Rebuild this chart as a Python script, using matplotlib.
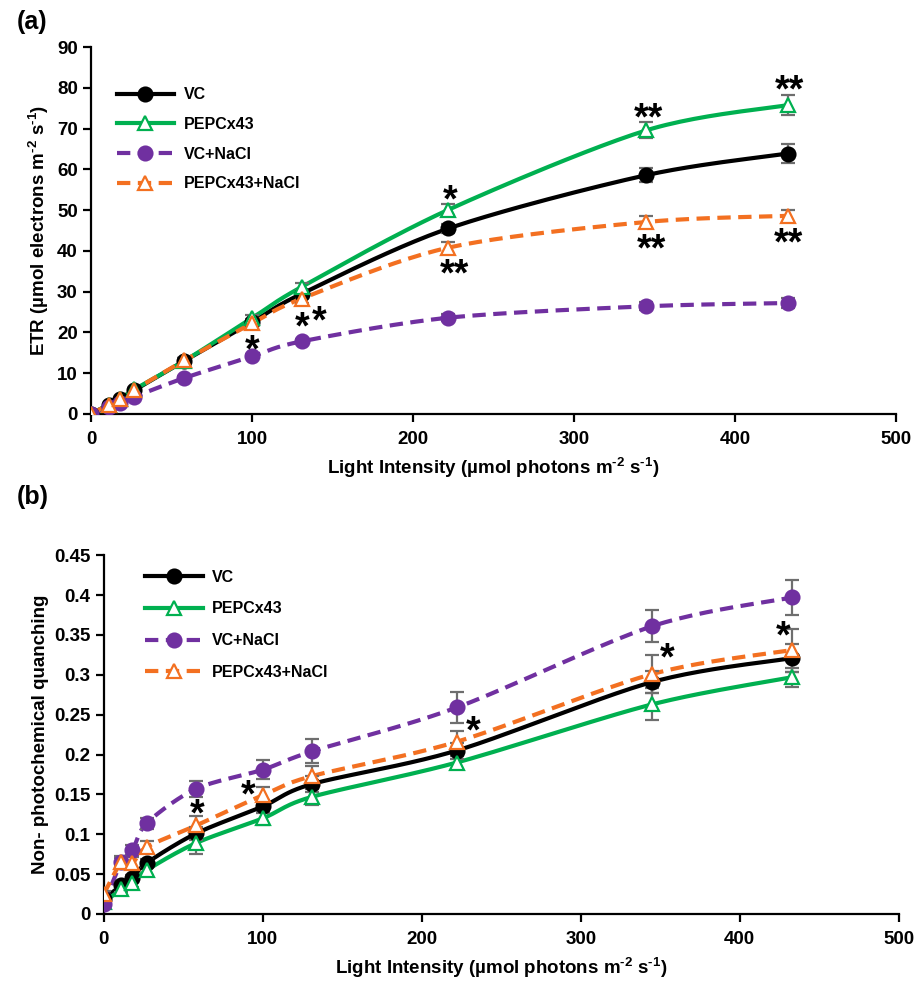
import numpy as np
import matplotlib
matplotlib.use("Agg")
import matplotlib.pyplot as plt

plt.rcParams['font.family'] = ['Liberation Sans', 'DejaVu Sans']
plt.rcParams['font.weight'] = 'bold'
plt.rcParams['mathtext.fontset'] = 'custom'
plt.rcParams['mathtext.rm'] = 'Liberation Sans:bold'
plt.rcParams['mathtext.default'] = 'rm'

# === Data ===
light = [0, 11, 18, 27, 58, 100, 131, 222, 345, 433]
series_names = ['VC', 'PEPCx43', 'VC+NaCl', 'PEPCx43+NaCl']

etr_vc = [0, 2.2, 3.7, 5.8, 13.0, 22.5, 29.5, 45.5, 58.6, 63.9]
etr_pepc = [0, 2.2, 3.7, 6.0, 13.0, 23.5, 31.2, 50.1, 69.6, 75.8]
etr_vc_nacl = [0, 1.7, 2.7, 4.2, 8.8, 14.1, 17.8, 23.6, 26.4, 27.2]
etr_pepc_nacl = [0, 2.2, 3.7, 5.9, 13.1, 22.2, 28.3, 40.8, 47.1, 48.6]

etr_vc_err = [0, 0.2, 0.3, 0.4, 0.6, 0.8, 1.0, 1.2, 1.7, 2.3]
etr_pepc_err = [0, 0.2, 0.3, 0.4, 0.6, 0.8, 1.0, 1.3, 2.0, 2.4]
etr_vc_nacl_err = [0, 0.1, 0.2, 0.3, 0.4, 0.5, 0.6, 0.8, 1.0, 1.3]
etr_pepc_nacl_err = [0, 0.2, 0.3, 0.4, 0.6, 0.8, 1.0, 1.5, 1.5, 1.4]

npq_vc = [0.019, 0.036, 0.045, 0.064, 0.101, 0.135, 0.163, 0.205, 0.291, 0.321]
npq_pepc = [0.015, 0.031, 0.039, 0.055, 0.089, 0.120, 0.147, 0.190, 0.263, 0.297]
npq_vc_nacl = [0.012, 0.065, 0.080, 0.114, 0.157, 0.181, 0.204, 0.259, 0.361, 0.397]
npq_pepc_nacl = [0.025, 0.065, 0.064, 0.084, 0.111, 0.149, 0.173, 0.216, 0.301, 0.331]

npq_vc_err = [0.003, 0.004, 0.004, 0.005, 0.008, 0.008, 0.010, 0.010, 0.014, 0.017]
npq_pepc_err = [0.003, 0.004, 0.005, 0.006, 0.014, 0.008, 0.010, 0.008, 0.020, 0.012]
npq_vc_nacl_err = [0.004, 0.005, 0.006, 0.007, 0.010, 0.012, 0.015, 0.020, 0.020, 0.022]
npq_pepc_nacl_err = [0.004, 0.008, 0.007, 0.007, 0.012, 0.010, 0.012, 0.014, 0.024, 0.027]

# significance marks: (x, y of star centre, text)
etr_stars = [(100, 17.4, '*'), (131, 23.0, '*'), (142, 24.5, '*'),
             (223, 54.2, '*'), (226, 36.1, '**'), (346, 74.4, '**'),
             (348, 42.3, '**'), (434, 81.2, '**'), (433, 43.8, '**')]
npq_stars = [(58.5, 0.134, '*'), (90.5, 0.158, '*'), (232, 0.238, '*'),
             (354, 0.330, '*'), (427, 0.358, '*')]

colors = ['black', '#00B050', '#7030A0', '#F37021']
markers = ['o', '^', 'o', '^']
dashed = [False, False, True, True]


def smooth(x, y, n=24):
    # Catmull-Rom style curve through the points, like Excel's smoothed line
    p = np.column_stack([x, y]).astype(float)
    p = np.vstack([p[0], p, p[-1]])
    out = []
    t = np.linspace(0, 1, n, endpoint=False)
    for i in range(1, len(p) - 2):
        p0, p1, p2, p3 = p[i - 1], p[i], p[i + 1], p[i + 2]
        m1 = (p2 - p0) / 2 * 0.9
        m2 = (p3 - p1) / 2 * 0.9
        h00 = 2 * t**3 - 3 * t**2 + 1
        h10 = t**3 - 2 * t**2 + t
        h01 = -2 * t**3 + 3 * t**2
        h11 = t**3 - t**2
        seg = (np.outer(h00, p1) + np.outer(h10, m1) + np.outer(h01, p2) + np.outer(h11, m2))
        out.append(seg)
    out.append(p[-2][None, :])
    out = np.vstack(out)
    return out[:, 0], out[:, 1]


def draw_panel(ax, ys, errs, stars, star_size=27):
    for name, y, e, c, m, d in zip(series_names, ys, errs, colors, markers, dashed):
        sx, sy = smooth(light, y)
        ls = (0, (3.2, 1.8)) if d else '-'
        ax.plot(sx, sy, color=c, lw=3, ls=ls, zorder=2)
        ax.errorbar(light, y, yerr=e, fmt='none', ecolor='#6E6E6E', elinewidth=1.6,
                    capsize=5, capthick=1.6, zorder=3)
        mfc = c if m == 'o' else 'white'
        ax.plot(light, y, ls='none', marker=m, ms=10 if m == 'o' else 10.5, mfc=mfc,
                mec=c, mew=1.6, zorder=4)
        # legend proxy
        ax.plot([], [], color=c, lw=3, ls=ls, marker=m, ms=10 if m == 'o' else 10.5,
                mfc=mfc, mec=c, mew=1.6, label=name)
    for sxp, syp, txt in stars:
        # the asterisk glyph sits high in its box, so pull the box down
        ax.annotate(txt, (sxp, syp), xytext=(0, -0.23 * star_size), textcoords='offset points',
                    ha='center', va='center', fontsize=star_size, fontweight='bold', zorder=5)
    ax.spines['top'].set_visible(False)
    ax.spines['right'].set_visible(False)
    for s in ['left', 'bottom']:
        ax.spines[s].set_linewidth(1.6)
    ax.tick_params(direction='out', width=1.6, length=6, labelsize=13.5)
    ax.tick_params(axis='x', pad=6)
    ax.set_xlim(0, 500)
    ax.set_xticks(np.arange(0, 501, 100))
    ax.set_xlabel(r'Light Intensity (µmol photons m$^{\text{-2}}$ s$^{\text{-1}}$)', fontsize=13.5,
                  fontweight='bold', labelpad=6)


fig = plt.figure(figsize=(9.19, 9.83), dpi=100)

ax1 = fig.add_axes([0.099, 0.579, 0.876, 0.373])
draw_panel(ax1, [etr_vc, etr_pepc, etr_vc_nacl, etr_pepc_nacl],
           [etr_vc_err, etr_pepc_err, etr_vc_nacl_err, etr_pepc_nacl_err], etr_stars)
ax1.set_ylim(0, 90)
ax1.set_yticks(np.arange(0, 91, 10))
ax1.set_ylabel(r'ETR (µmol electrons m$^{\text{-2}}$ s$^{\text{-1}}$)', fontsize=13.5, fontweight='bold')
ax1.legend(loc='upper left', bbox_to_anchor=(0.014, 0.93), frameon=False, fontsize=11.5,
           handlelength=3.6, labelspacing=0.92, handletextpad=0.6)

ax2 = fig.add_axes([0.113, 0.0702, 0.865, 0.365])
draw_panel(ax2, [npq_vc, npq_pepc, npq_vc_nacl, npq_pepc_nacl],
           [npq_vc_err, npq_pepc_err, npq_vc_nacl_err, npq_pepc_nacl_err], npq_stars)
ax2.set_ylim(0, 0.45)
ax2.set_yticks(np.arange(0, 0.451, 0.05))
ax2.set_yticklabels([f'{v:g}' for v in np.round(np.arange(0, 0.451, 0.05), 2)])
ax2.set_ylabel('Non- photochemical quanching', fontsize=13.5, fontweight='bold')
ax2.legend(loc='upper left', bbox_to_anchor=(0.034, 1.0), frameon=False, fontsize=11.5,
           handlelength=3.6, labelspacing=1.05, handletextpad=0.6)

fig.text(0.018, 0.978, '(a)', fontsize=18, fontweight='bold', va='center')
fig.text(0.018, 0.494, '(b)', fontsize=18, fontweight='bold', va='center')

fig.savefig('out.png', dpi=100)
